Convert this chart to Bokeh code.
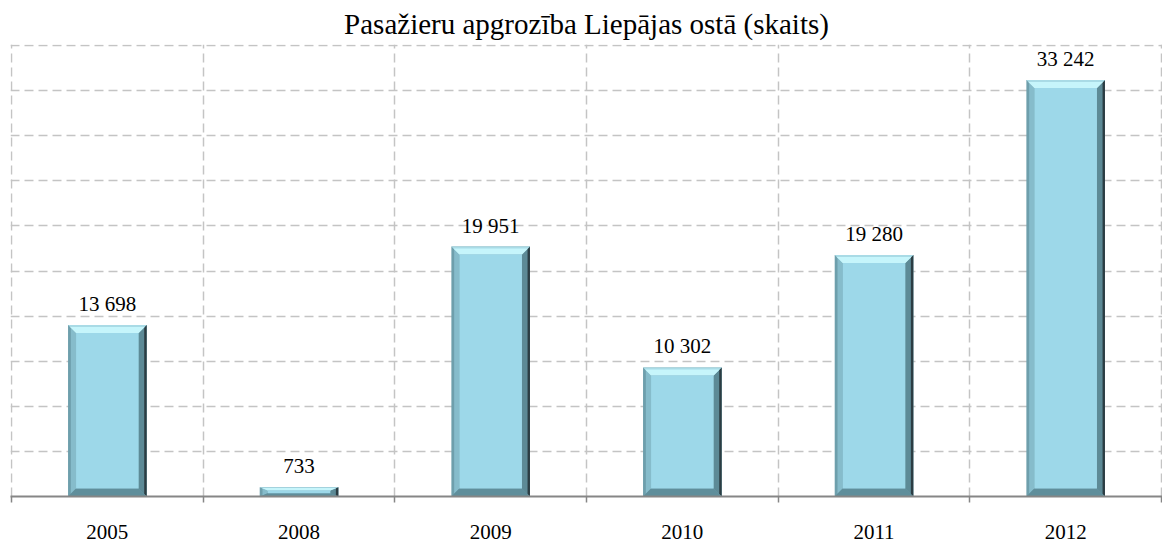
import numpy as np
from bokeh.plotting import figure
from bokeh.models import Range1d, FixedTicker, LabelSet, ColumnDataSource
from bokeh.embed import file_html
from bokeh.resources import INLINE

# ---- data ----
years = ["2005", "2008", "2009", "2010", "2011", "2012"]
passengers = [13698, 733, 19951, 10302, 19280, 33242]
title_text = "Pasažieru apgrozība Liepājas ostā (skaits)"

y_max = 36000
y_step = 3600

W, H = 1162, 542
MB_L, MB_R, MB_T, MB_B = 10, 0, 44, 46
n = len(years)
frame_w_px = W - MB_L - MB_R
cat_px = (frame_w_px - 2) / n
ex = 1 / cat_px
frame_h_px = H - MB_T - MB_B
units_per_px_y = y_max / (frame_h_px - 1)

p = figure(width=W, height=H, output_backend="svg", toolbar_location=None,
           x_range=Range1d(-0.5 - ex, n - 0.5 + ex),
           y_range=Range1d(0, y_max + units_per_px_y),
           min_border_left=MB_L, min_border_right=MB_R,
           min_border_top=MB_T, min_border_bottom=MB_B)
p.outline_line_color = None
p.background_fill_color = "white"
p.border_fill_color = "white"
p.yaxis.visible = False

p.title.text = title_text
p.title.align = "center"
p.title.text_font = "Liberation Serif"
p.title.text_font_size = "29px"
p.title.text_font_style = "normal"
p.title.text_color = "black"
p.title.standoff = 9

xs_c = np.arange(n)

bw = 0.41
bx = 8 / cat_px
by_full = 8 * units_per_px_y

# grids
p.xgrid.ticker = FixedTicker(ticks=list(np.arange(n + 1) - 0.5))
p.ygrid.ticker = FixedTicker(ticks=[y_step * k for k in range(1, 11)])
for g in (p.xgrid[0], p.ygrid[0]):
    g.grid_line_color = "#c4c4c4"
    g.grid_line_width = 1.5
    g.grid_line_dash = "9 5"

# x axis
ax = p.xaxis[0]
ax.ticker = FixedTicker(ticks=list(xs_c), minor_ticks=list(np.arange(n + 1) - 0.5))
ax.major_label_overrides = {int(i): y for i, y in zip(xs_c, years)}
ax.major_tick_out = 0
ax.major_tick_in = 0
ax.minor_tick_out = 6
ax.minor_tick_in = 0
ax.minor_tick_line_color = "#868686"
ax.minor_tick_line_width = 1.5
ax.axis_line_color = "#868686"
ax.axis_line_width = 2
ax.major_label_standoff = 22
ax.major_label_text_font = "Liberation Serif"
ax.major_label_text_font_size = "21px"
ax.major_label_text_color = "black"

# ---- bevelled bars ----
patch_xs, patch_ys, patch_cols = [], [], []

def add(px, py, c):
    patch_xs.append(list(px)); patch_ys.append(list(py)); patch_cols.append(c)

for x, v in zip(xs_c, passengers):
    L, R = x - bw / 2, x + bw / 2
    by = min(by_full, v * 0.35)
    add([L, R, R, L], [0, 0, v, v], "#6e9fac")
    add([L + bx * 0.35, L + bx, L + bx, L + bx * 0.35],
        [by * 0.35, by, v - by, v - by * 0.35], "#86bccb")
    add([R, R - bx, R - bx, R], [0, by, v - by, v], "#5d8a96")
    add([R - bx * 0.3, R, R, R - bx * 0.3], [by * 0.3, 0, v, v - by * 0.3], "#2c3d43")
    add([L, R, R - bx, L + bx], [0, 0, by, by], "#5f8e9b")
    add([L, R, R - bx, L + bx], [v, v, v - by, v - by], "#a9dbe6")
    add([L + bx * 0.25, R - bx * 0.25, R - bx, L + bx],
        [v - by * 0.25, v - by * 0.25, v - by, v - by], "#c6f5fb")
    add([L + bx, R - bx, R - bx, L + bx], [by, by, v - by, v - by], "#9dd8e9")

p.patches(patch_xs, patch_ys, fill_color=patch_cols, line_color=None)

# ---- value labels ----
src = ColumnDataSource(dict(x=xs_c, y=passengers,
                            t=[f"{v:,}".replace(",", " ") for v in passengers]))
p.add_layout(LabelSet(x="x", y="y", text="t", source=src, y_offset=14,
                      text_align="center", text_baseline="alphabetic",
                      text_font="Liberation Serif", text_font_size="21px",
                      text_color="black"))

open("out.html", "w").write(file_html(p, INLINE))
